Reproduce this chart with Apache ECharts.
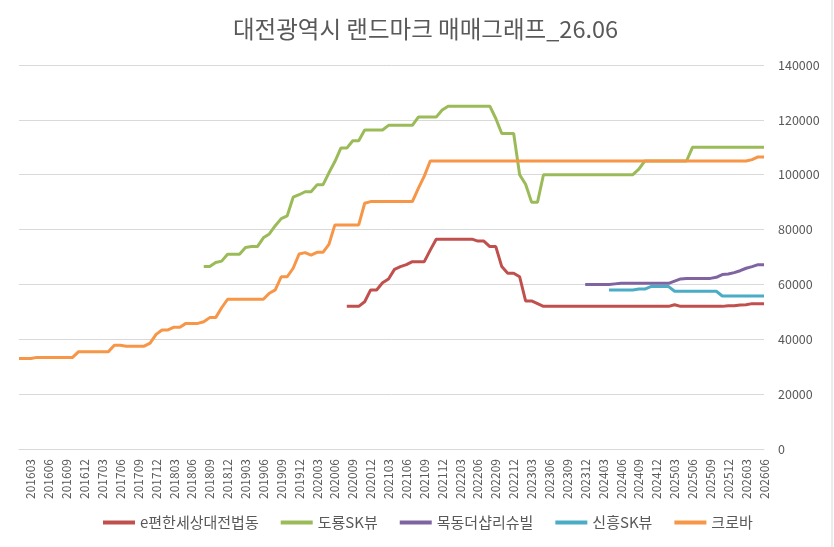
<!DOCTYPE html>
<html>
<head>
<meta charset="utf-8">
<script src="https://cdn.jsdelivr.net/npm/echarts@6/dist/echarts.min.js"></script>
<style>
  html, body { margin: 0; padding: 0; background: #fff; }
  #chart { width: 834px; height: 547px; }
</style>
</head>
<body>
<div id="chart"></div>
<script>
// 월별 카테고리 (201601 ~ 202606)
const months = [
  "201601","201602","201603","201604","201605","201606","201607","201608","201609","201610","201611","201612",
  "201701","201702","201703","201704","201705","201706","201707","201708","201709","201710","201711","201712",
  "201801","201802","201803","201804","201805","201806","201807","201808","201809","201810","201811","201812",
  "201901","201902","201903","201904","201905","201906","201907","201908","201909","201910","201911","201912",
  "202001","202002","202003","202004","202005","202006","202007","202008","202009","202010","202011","202012",
  "202101","202102","202103","202104","202105","202106","202107","202108","202109","202110","202111","202112",
  "202201","202202","202203","202204","202205","202206","202207","202208","202209","202210","202211","202212",
  "202301","202302","202303","202304","202305","202306","202307","202308","202309","202310","202311","202312",
  "202401","202402","202403","202404","202405","202406","202407","202408","202409","202410","202411","202412",
  "202501","202502","202503","202504","202505","202506","202507","202508","202509","202510","202511","202512",
  "202601","202602","202603","202604","202605","202606"
];

const none = (n) => Array(n).fill(null);

// e편한세상대전법동
const bubdong = none(55).concat([
  52000, 52000, 52000, 53700, 58000,
  58000, 60600, 62000, 65500, 66500, 67200, 68300, 68300, 68300, 72500, 76500, 76500,
  76500, 76500, 76500, 76500, 76500, 75800, 75800, 73800, 73800, 66500, 64100, 64100,
  62800, 54000, 54000, 53000, 52000, 52000, 52000, 52000, 52000, 52000, 52000, 52000,
  52000, 52000, 52000, 52000, 52000, 52000, 52000, 52000, 52000, 52000, 52000, 52000,
  52000, 52000, 52600, 52000, 52000, 52000, 52000, 52000, 52000, 52000, 52000, 52200,
  52200, 52500, 52600, 53000, 53000, 53000
]);

// 도룡SK뷰
const doryong = none(31).concat([
  66500, 66500, 68000, 68500, 71000,
  71000, 71000, 73500, 73800, 73800, 77000, 78400, 81400, 84000, 85000, 91800, 92700,
  93800, 93800, 96300, 96300, 100700, 104800, 109700, 109700, 112400, 112400, 116300, 116300,
  116300, 116300, 118000, 118000, 118000, 118000, 118000, 121000, 121000, 121000, 121000, 123600,
  125000, 125000, 125000, 125000, 125000, 125000, 125000, 125000, 120500, 115000, 115000, 115000,
  100000, 96500, 90000, 90000, 100000, 100000, 100000, 100000, 100000, 100000, 100000, 100000,
  100000, 100000, 100000, 100000, 100000, 100000, 100000, 100000, 102000, 105000, 105000, 105000,
  105000, 105000, 105000, 105000, 105000, 110000, 110000, 110000, 110000, 110000, 110000, 110000,
  110000, 110000, 110000, 110000, 110000, 110000
]);

// 목동더샵리슈빌
const mokdong = none(95).concat([
  60000,
  60000, 60000, 60000, 60000, 60200, 60400, 60400, 60400, 60400, 60400, 60400, 60400,
  60400, 60400, 61200, 62000, 62200, 62200, 62200, 62200, 62200, 62600, 63600, 63800,
  64300, 65000, 65900, 66500, 67200, 67200
]);

// 신흥SK뷰
const sinheung = none(99).concat([
  58000, 58000, 58000, 58000, 58000, 58300, 58300, 59200, 59200,
  59200, 59200, 57500, 57500, 57500, 57500, 57500, 57500, 57500, 57500, 55800, 55800,
  55800, 55800, 55800, 55800, 55800, 55800
]);

// 크로바
const clover = [
  33000, 33000, 33000, 33400, 33400, 33400, 33400, 33400, 33400, 33400, 35500, 35500,
  35500, 35500, 35500, 35500, 37800, 37800, 37500, 37500, 37500, 37500, 38600, 41800,
  43400, 43400, 44400, 44400, 45800, 45800, 45800, 46400, 47900, 47900, 51500, 54600,
  54600, 54600, 54600, 54600, 54600, 54600, 56800, 58000, 62800, 62800, 65900, 71100,
  71600, 70700, 71700, 71700, 74600, 81700, 81700, 81700, 81700, 81700, 89600, 90200,
  90200, 90200, 90200, 90200, 90200, 90200, 90200, 95000, 99500, 105000, 105000, 105000,
  105000, 105000, 105000, 105000, 105000, 105000, 105000, 105000, 105000, 105000, 105000, 105000,
  105000, 105000, 105000, 105000, 105000, 105000, 105000, 105000, 105000, 105000, 105000, 105000,
  105000, 105000, 105000, 105000, 105000, 105000, 105000, 105000, 105000, 105000, 105000, 105000,
  105000, 105000, 105000, 105000, 105000, 105000, 105000, 105000, 105000, 105000, 105000, 105000,
  105000, 105000, 105000, 105500, 106500, 106500
];

const seriesNames = ["e편한세상대전법동", "도룡SK뷰", "목동더샵리슈빌", "신흥SK뷰", "크로바"];
const seriesData = [bubdong, doryong, mokdong, sinheung, clover];
const colors = ["#C0504D", "#9BBB59", "#8064A2", "#4BACC6", "#F79646"];

const font = "'Noto Sans CJK KR', 'Noto Sans', sans-serif";
const chart = echarts.init(document.getElementById("chart"));

chart.setOption({
  animation: false,
  color: colors,
  textStyle: { fontFamily: font },
  title: {
    text: "대전광역시 랜드마크 매매그래프_26.06",
    left: 228,
    top: 12,
    textStyle: { fontSize: 23.5, fontWeight: "normal", color: "#595959", fontFamily: font }
  },
  legend: {
    bottom: 12,
    left: 98,
    icon: "rect",
    itemWidth: 32,
    itemHeight: 4,
    itemGap: 22,
    textStyle: { fontSize: 15, color: "#595959", fontFamily: font },
    data: seriesNames
  },
  grid: { left: 19, right: 70, top: 65, bottom: 98 },
  xAxis: {
    type: "category",
    data: months,
    boundaryGap: false,
    axisLine: { lineStyle: { color: "#d9d9d9" } },
    axisTick: { show: false },
    axisLabel: {
      rotate: 90,
      interval: (idx) => idx % 3 === 2,
      color: "#595959",
      fontSize: 12,
      margin: 10,
      fontFamily: font
    }
  },
  yAxis: {
    type: "value",
    position: "right",
    min: 0,
    max: 140000,
    interval: 20000,
    axisLine: { show: false },
    axisTick: { show: false },
    splitLine: { lineStyle: { color: "#d9d9d9" } },
    axisLabel: {
      color: "#595959",
      fontSize: 12.5,
      margin: 14,
      fontFamily: font,
      formatter: (v) => String(v)
    }
  },
  series: seriesNames.map((name, k) => ({
    name: name,
    type: "line",
    data: seriesData[k],
    symbol: "none",
    connectNulls: false,
    lineStyle: { width: 3, color: colors[k] },
    itemStyle: { color: colors[k] }
  })),
  graphic: [{
    type: "line",
    shape: { x1: 832, y1: 0, x2: 832, y2: 547 },
    style: { stroke: "#d9d9d9", lineWidth: 1 }
  }]
});
</script>
</body>
</html>
